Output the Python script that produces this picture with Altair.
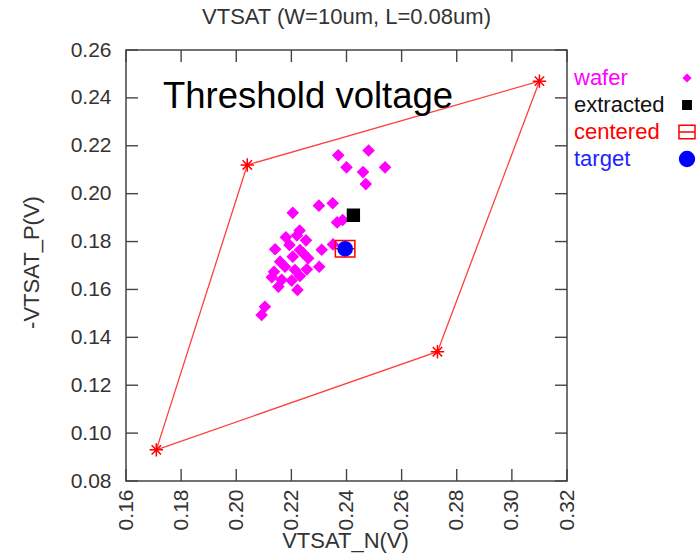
import altair as alt
import pandas as pd

# Wafer measurements: VTSAT_N (V) and -VTSAT_P (V)
wafer_n = [0.237, 0.248, 0.240, 0.246, 0.254, 0.247, 0.235, 0.230, 0.2205, 0.2366,
           0.2386, 0.223, 0.222, 0.218, 0.2253, 0.2193, 0.2141, 0.2231, 0.2351, 0.231,
           0.2205, 0.2243, 0.2261, 0.2159, 0.2177, 0.2301, 0.2213, 0.2256, 0.2137, 0.2129,
           0.2231, 0.2165, 0.2201, 0.2153, 0.2222, 0.2104, 0.2092]
wafer_p = [0.216, 0.218, 0.211, 0.209, 0.211, 0.204, 0.196, 0.195, 0.192, 0.188,
           0.189, 0.1846, 0.1825, 0.1818, 0.1805, 0.1786, 0.1768, 0.1765, 0.1788, 0.1766,
           0.1737, 0.1751, 0.173, 0.1716, 0.1695, 0.1695, 0.1681, 0.1684, 0.1674, 0.1651,
           0.1656, 0.164, 0.1637, 0.1612, 0.1598, 0.1528, 0.1493]

# Single model points
extracted_n, extracted_p = [0.2425], [0.191]
centered_n, centered_p = [0.2395], [0.177]
target_n, target_p = [0.2395], [0.177]

# Corner (process window) vertices, in drawing order
corner_n = [0.171, 0.204, 0.310, 0.273]
corner_p = [0.093, 0.212, 0.247, 0.134]

# Axis tick values
x_ticks = [0.16, 0.18, 0.20, 0.22, 0.24, 0.26, 0.28, 0.30, 0.32]
y_ticks = [0.08, 0.10, 0.12, 0.14, 0.16, 0.18, 0.20, 0.22, 0.24, 0.26]

# Series legend
series_names = ["wafer", "extracted", "centered", "target"]
series_fill = ["#ff00ff", "#000000", "transparent", "#0000ff"]
series_stroke = ["#ff00ff", "#000000", "#ff0000", "#0000ff"]
CENTERED_PATH = "M-1,-0.85H1V0.85H-1Z M-1,0H1"
series_shape = ["diamond", "square", CENTERED_PATH, "circle"]

note_n, note_p, note_text = [0.1734], [0.2358], ["Threshold voltage"]

FONT = "Liberation Sans"
W, H = 441, 431
TICK = 12
FRAME = "#444444"

corners = pd.DataFrame({"vn": corner_n, "vp": corner_p, "k": list(range(len(corner_n)))})
outline = pd.DataFrame({
    "vn": corner_n + corner_n[:1],
    "vp": corner_p + corner_p[:1],
    "k": list(range(len(corner_n) + 1)),
})

xscale = alt.Scale(domain=[0.16, 0.32], nice=False, zero=False)
yscale = alt.Scale(domain=[0.08, 0.26], nice=False, zero=False)

xaxis = alt.Axis(values=x_ticks, format=".2f", labelAngle=270, labelFontSize=21,
                 labelPadding=8, labelFlush=False, labelOverlap=False, ticks=False,
                 domain=False, grid=False, title="VTSAT_N(V)", titleFontSize=22,
                 titleFontWeight="normal", titleX=219, titleY=66,
                 titleBaseline="alphabetic", titleAlign="center")
yaxis = alt.Axis(values=y_ticks, format=".2f", labelFontSize=21, labelPadding=15,
                 labelOverlap=False, ticks=False, domain=False, grid=False,
                 title="-VTSAT_P(V)", titleFontSize=22, titleFontWeight="normal",
                 titleX=-95, titleY=212, titleAngle=270, titleBaseline="middle",
                 titleAlign="center")


def X():
    return alt.X("vn:Q", scale=xscale, axis=xaxis)


def Y():
    return alt.Y("vp:Q", scale=yscale, axis=yaxis)


def series_layer(name, xs, ys, size):
    df = pd.DataFrame({"vn": xs, "vp": ys, "series": name})
    return alt.Chart(df).mark_point(filled=True, opacity=1, strokeWidth=1.5, size=size).encode(
        x=X(), y=Y(),
        shape=alt.Shape("series:N", scale=alt.Scale(domain=series_names, range=series_shape), title=None),
        fill=alt.Fill("series:N", scale=alt.Scale(domain=series_names, range=series_fill), title=None),
        stroke=alt.Stroke("series:N", scale=alt.Scale(domain=series_names, range=series_stroke), title=None),
    )


window = alt.Chart(outline).mark_line(color="#ff2a2a", strokeWidth=1.3, opacity=0.9).encode(
    x=X(), y=Y(), order="k:Q"
)

stars = alt.Chart(corners).mark_point(
    shape="M-1,0H1M0,-1V1M-0.7,-0.7L0.7,0.7M-0.7,0.7L0.7,-0.7",
    filled=False, color="#ff0000", strokeWidth=1.5, size=180, opacity=1
).encode(x=X(), y=Y())

wafer = series_layer("wafer", wafer_n, wafer_p, 110)
extracted = series_layer("extracted", extracted_n, extracted_p, 140)
centered = series_layer("centered", centered_n, centered_p, 380)
target = series_layer("target", target_n, target_p, 200)

note = alt.Chart(pd.DataFrame({"vn": note_n, "vp": note_p, "t": note_text})).mark_text(
    align="left", baseline="alphabetic", fontSize=36.5, font=FONT, color="#000000"
).encode(x=X(), y=Y(), text="t:N")

xt = pd.DataFrame({"vn": x_ticks})
yt = pd.DataFrame({"vp": y_ticks})
tick_style = dict(color=FRAME, strokeWidth=1.4)
ticks_bottom = alt.Chart(xt).mark_rule(**tick_style).encode(
    x=X(), y=alt.value(H), y2=alt.value(H - TICK))
ticks_top = alt.Chart(xt).mark_rule(**tick_style).encode(
    x=X(), y=alt.value(0), y2=alt.value(TICK))
ticks_left = alt.Chart(yt).mark_rule(**tick_style).encode(
    y=Y(), x=alt.value(0), x2=alt.value(TICK))
ticks_right = alt.Chart(yt).mark_rule(**tick_style).encode(
    y=Y(), x=alt.value(W), x2=alt.value(W - TICK))

chart = alt.layer(
    window, stars, wafer, extracted, centered, target, note,
    ticks_bottom, ticks_top, ticks_left, ticks_right
).properties(
    width=W, height=H,
    title=alt.TitleParams("VTSAT (W=10um, L=0.08um)", fontSize=22, fontWeight="normal",
                          color="#333333", font=FONT, offset=10, anchor="middle"),
    autosize=alt.AutoSizeParams(type="none"),
    padding={"left": 126, "top": 50, "right": 133, "bottom": 72},
).configure(
    font=FONT,
).configure_view(
    stroke=FRAME, strokeWidth=1.5,
).configure_axis(
    labelFont=FONT, titleFont=FONT, labelColor="#333333", titleColor="#333333",
).configure_legend(
    orient="none", legendX=420, legendY=17, padding=0,
    labelFont=FONT, labelFontSize=22, labelOffset={"expr": "-124"}, symbolOffset=130,
    rowPadding=5, symbolStrokeWidth=1.5,
    symbolSize={"expr": "datum.value === 'wafer' ? 50 : datum.value === 'extracted' ? 70 : datum.value === 'centered' ? 256 : 220"},
    labelColor={"expr": "datum.value === 'wafer' ? '#ff00ff' : datum.value === 'extracted' ? '#111111' : datum.value === 'centered' ? '#ff0000' : '#2222ff'"},
)

chart.save("out.html", embed_options={"renderer": "svg", "actions": False})
